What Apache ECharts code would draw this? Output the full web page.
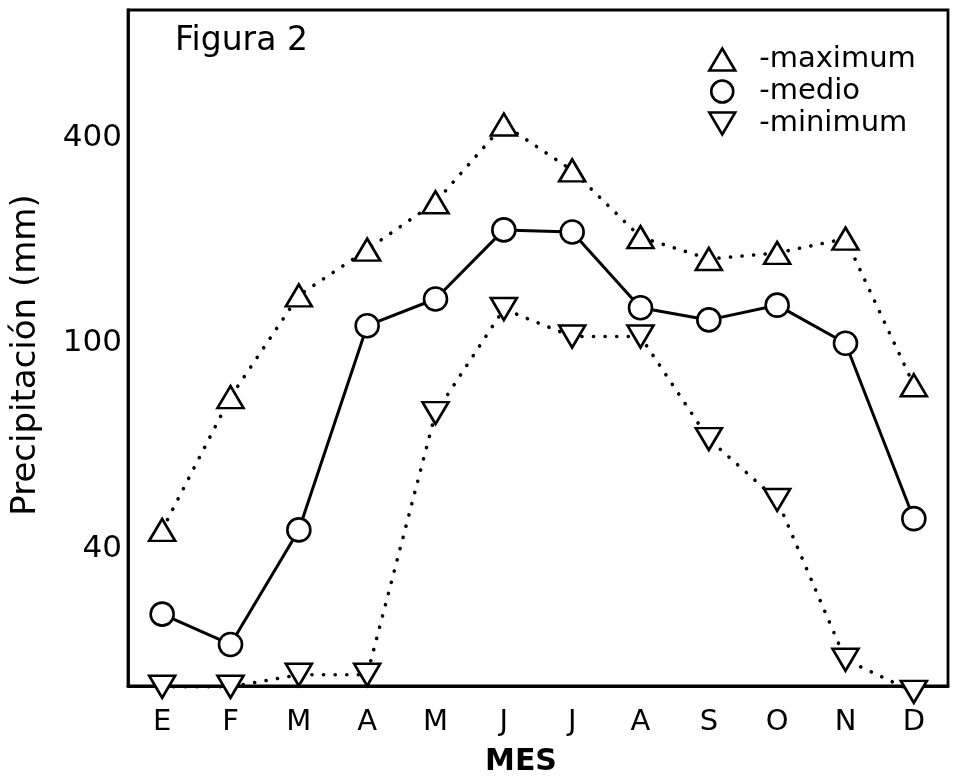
<!DOCTYPE html>
<html>
<head>
<meta charset="utf-8">
<script src="https://cdn.jsdelivr.net/npm/echarts@6/dist/echarts.min.js"></script>
<style>html,body{margin:0;padding:0;background:#fff}#c{width:953px;height:782px}</style>
</head>
<body>
<div id="c"></div>
<script>
// Data (mm)
const months = ['E','F','M','A','M','J','J','A','S','O','N','D'];
const maximum = [42.4, 74.2, 134, 181, 251, 440, 315, 197, 170, 177, 195, 79];
const medio   = [34.0, 32.1, 42.4, 111, 131, 207, 204, 124, 115, 126, 100, 44];
const minimum = [30.1, 30.1, 30.6, 30.6, 68.4, 123, 104, 104, 60.4, 47, 31.3, 29.9];
const yTickLabels = [40, 100, 400];

// Axis transform of the original printed scale: 40, 100, 400 equally spaced
const T = v => 6 + 3 * Math.log((v - 25) / 15) / Math.log(5);
const Tinv = t => 25 + 15 * Math.pow(5, (t - 6) / 3);

const FONT = 'DejaVu Sans';
const chart = echarts.init(document.getElementById('c'));
const downTri = 'path://M0,0 L20,0 L10,17 Z';
const upTri = 'path://M10,0 L20,17 L0,17 Z';
const itemStyle = {color: '#fff', borderColor: '#000', borderWidth: 2.6};
const dotted = {color: '#000', width: 3.6, type: [0.1, 11.5], cap: 'round'};

chart.setOption({
  animation: false,
  backgroundColor: '#fff',
  title: {
    text: 'Figura 2', left: 170, top: 20,
    textStyle: {fontFamily: FONT, fontSize: 33, fontWeight: 'normal', color: '#000'}
  },
  legend: {
    orient: 'vertical', left: 703, top: 40, itemGap: 3,
    itemWidth: 27, itemHeight: 22,
    data: [
      {name: 'maximum', icon: upTri},
      {name: 'medio', icon: 'circle'},
      {name: 'minimum', icon: downTri}
    ],
    itemStyle: {color: '#fff', borderColor: '#000', borderWidth: 2.6},
    formatter: n => '  -' + n,
    textStyle: {fontFamily: FONT, fontSize: 29, color: '#000'}
  },
  grid: {
    left: 128, right: 5, top: 10, bottom: 93,
    show: true, borderColor: '#000', borderWidth: 2.8, containLabel: false
  },
  xAxis: {
    type: 'category', data: months, boundaryGap: true,
    name: 'MES', nameLocation: 'middle', nameGap: 61,
    nameTextStyle: {fontFamily: FONT, fontSize: 30, fontWeight: 'bold', color: '#000', padding: [0, 34, 0, 0]},
    axisLine: {lineStyle: {color: '#000', width: 2.8}},
    axisTick: {inside: true, alignWithLabel: true, length: 8, lineStyle: {color: '#000', width: 2.6}},
    axisLabel: {fontFamily: FONT, fontSize: 29, color: '#000', margin: 22},
    splitLine: {show: false}
  },
  yAxis: {
    type: 'value', min: 4, max: 13.86, interval: 1,
    name: 'Precipitación (mm)', nameLocation: 'middle', nameGap: 85, nameRotate: 90,
    nameTextStyle: {fontFamily: FONT, fontSize: 34, color: '#000', padding: [0, 14, 0, 0]},
    axisLine: {show: true, lineStyle: {color: '#000', width: 2.8}},
    axisTick: {inside: true, length: 8, lineStyle: {color: '#000', width: 2.6}},
    axisLabel: {
      fontFamily: FONT, fontSize: 31, color: '#000', margin: 6,
      showMaxLabel: false,
      formatter: v => {
        const r = Math.round(Tinv(v));
        return yTickLabels.indexOf(r) >= 0 && Math.abs(v - Math.round(v)) < 1e-6 ? String(r) : '';
      }
    },
    splitLine: {show: false}
  },
  series: [
    {
      name: 'maximum', type: 'line', data: maximum.map(T), clip: false,
      symbol: upTri, symbolSize: [26, 22], showAllSymbol: true,
      lineStyle: dotted, itemStyle: itemStyle, z: 3
    },
    {
      name: 'medio', type: 'line', data: medio.map(T), clip: false,
      symbol: 'circle', symbolSize: 23, showAllSymbol: true,
      lineStyle: {color: '#000', width: 3}, itemStyle: itemStyle, z: 4
    },
    {
      name: 'minimum', type: 'line', data: minimum.map(T), clip: false,
      symbol: downTri, symbolSize: [26, 22], showAllSymbol: true,
      lineStyle: dotted, itemStyle: itemStyle, z: 3
    }
  ]
});
</script>
</body>
</html>
